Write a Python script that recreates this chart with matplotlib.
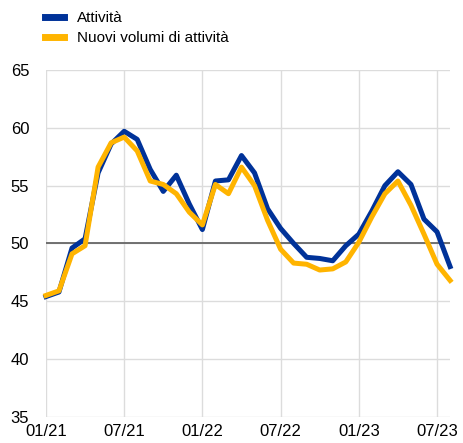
import matplotlib
matplotlib.use("Agg")
import matplotlib.pyplot as plt
import pandas as pd

plt.rcParams["font.family"] = ["Liberation Sans", "DejaVu Sans"]

months = pd.date_range("2021-01-01", "2023-08-01", freq="MS")

attivita = [45.4, 45.8, 49.6, 50.4, 56.1, 58.6, 59.7, 59.0, 56.4, 54.5, 55.9, 53.4,
            51.2, 55.4, 55.5, 57.6, 56.1, 53.0, 51.3, 50.0, 48.8, 48.7, 48.5, 49.8,
            50.8, 52.8, 55.0, 56.2, 55.1, 52.1, 51.0, 48.0]
nuovi_volumi = [45.5, 45.9, 49.1, 49.8, 56.6, 58.7, 59.2, 58.0, 55.4, 55.1, 54.3, 52.7,
                51.6, 55.1, 54.3, 56.6, 55.0, 52.0, 49.5, 48.3, 48.2, 47.7, 47.8, 48.4,
                50.1, 52.3, 54.3, 55.4, 53.3, 50.8, 48.2, 46.8]

tick_labels = ["01/21", "07/21", "01/22", "07/22", "01/23", "07/23"]
tick_pos = [0, 6, 12, 18, 24, 30]
y_ticks = [35, 40, 45, 50, 55, 60, 65]

blue = "#003299"
yellow = "#ffb400"

fig = plt.figure(figsize=(4.64, 4.43), dpi=100)
ax = fig.add_axes([0.099, 0.059, 0.871, 0.783])

x = range(len(months))
ax.plot(x, attivita, color=blue, lw=3.6, label="Attività", zorder=3, clip_on=False)
ax.plot(x, nuovi_volumi, color=yellow, lw=3.6, label="Nuovi volumi di attività",
        zorder=4, clip_on=False)
ax.axhline(50, color="#666666", lw=1.3, zorder=2)

ax.set_xlim(0, len(months) - 1)
ax.set_ylim(35, 65)
ax.set_yticks(y_ticks)
ax.set_xticks(tick_pos)
ax.set_xticklabels(tick_labels)
ax.grid(True, color="#dcdcdc", lw=1)
ax.set_axisbelow(True)
for s in ax.spines.values():
    s.set_visible(False)
ax.tick_params(length=0, labelsize=12, colors="#000000", pad=5)
ax.tick_params(axis="y", pad=12)

leg = fig.legend(loc="upper left", bbox_to_anchor=(0.078, 0.995), frameon=False,
                 fontsize=11, handlelength=1.2, handletextpad=0.9, labelspacing=0.4,
                 borderaxespad=0.2)
for h in leg.legend_handles:
    h.set_linewidth(5)

plt.savefig("out.png", dpi=100)
plt.close()
